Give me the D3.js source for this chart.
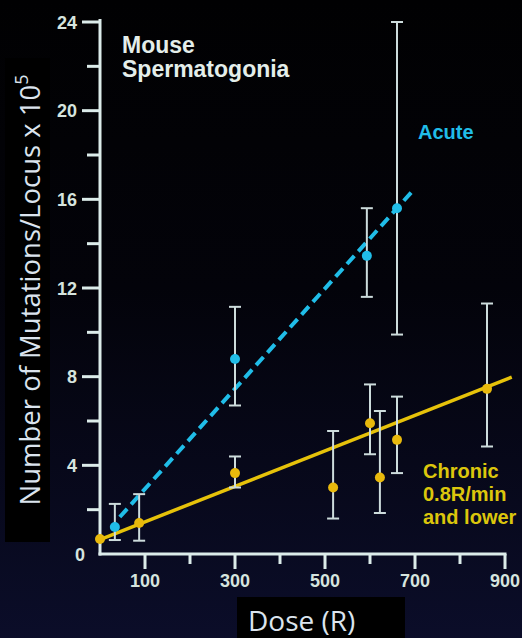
<!DOCTYPE html>
<html>
<head>
<meta charset="utf-8">
<script src="https://cdn.jsdelivr.net/npm/d3@7"></script>
<style>
  html, body { margin: 0; padding: 0; background: #000; }
  svg { display: block; }
</style>
</head>
<body>
<script>
'use strict';

// dose (R) and mutations per locus x 10^5
const acuteDose  = [33, 300, 593, 660]
const acuteValue = [1.22, 8.8, 13.45, 15.6]
const acuteHigh  = [2.26, 11.15, 15.6, 24.0]
const acuteLow   = [0.63, 6.7, 11.6, 9.9]

const chronicDose  = [0, 87, 300, 518, 600, 622, 660, 860]
const chronicValue = [0.68, 1.4, 3.65, 3.0, 5.9, 3.45, 5.15, 7.45]
const chronicHigh  = [null, 2.7, 4.4, 5.55, 7.65, 6.45, 7.1, 11.3]
const chronicLow   = [null, 0.6, 3.0, 1.6, 4.5, 1.85, 3.65, 4.85]

// fitted lines, end points
const acuteFitDose    = [44, 700]
const acuteFitValue   = [1.67, 16.5]
const chronicFitDose  = [0, 915]
const chronicFitValue = [0.65, 7.98]

const xTicks = [100, 200, 300, 400, 500, 600, 700, 800, 900]
const xTickLabels = [100, 300, 500, 700, 900]
const yTicks = [2, 4, 6, 8, 10, 12, 14, 16, 18, 20, 22, 24]
const yTickLabels = [0, 4, 8, 12, 16, 20, 24]

const largura = 522
const altura = 638

const corEixo = '#dcecea'
const corCiano = '#20bde8'
const corAmarelo = '#e6c20a'
const corBarra = '#cddcdc'

const svg = d3.select('body').append('svg')
    .attr('width', largura)
    .attr('height', altura)

// fundo: quase preto em cima, azul escuro em baixo
const grad = svg.append('defs').append('linearGradient')
    .attr('id', 'fundo')
    .attr('x1', 0).attr('y1', 0).attr('x2', 0).attr('y2', 1)
grad.append('stop').attr('offset', '0%').attr('stop-color', '#010102')
grad.append('stop').attr('offset', '45%').attr('stop-color', '#03030a')
grad.append('stop').attr('offset', '100%').attr('stop-color', '#0b0d29')
svg.append('rect').attr('width', largura).attr('height', altura).attr('fill', 'url(#fundo)')

const x = d3.scaleLinear().domain([0, 900]).range([100, 505])
const y = d3.scaleLinear().domain([0, 24]).range([554, 22])

const fonte = 'Liberation Sans, Arial, Helvetica, sans-serif'

// eixo x
const eixoX = svg.append('g')
eixoX.append('line')
    .attr('x1', x(0) - 1.5).attr('x2', x(900) + 1.5)
    .attr('y1', y(0)).attr('y2', y(0))
    .attr('stroke', corEixo).attr('stroke-width', 3)
eixoX.selectAll('line.tick').data(xTicks).enter().append('line')
    .attr('class', 'tick')
    .attr('x1', d => x(d)).attr('x2', d => x(d))
    .attr('y1', y(0))
    .attr('y2', d => y(0) + (xTickLabels.includes(d) ? 15 : 10))
    .attr('stroke', corEixo).attr('stroke-width', 3)
eixoX.selectAll('text').data(xTickLabels).enter().append('text')
    .attr('x', d => x(d)).attr('y', 587)
    .attr('text-anchor', 'middle')
    .attr('font-family', fonte)
    .attr('font-weight', 'bold').attr('font-size', 18)
    .attr('fill', '#d6e4de')
    .text(d => d)

// eixo y
const eixoY = svg.append('g')
eixoY.append('line')
    .attr('x1', x(0)).attr('x2', x(0))
    .attr('y1', y(24) - 3).attr('y2', y(0) + 1.5)
    .attr('stroke', corEixo).attr('stroke-width', 3)
eixoY.selectAll('line.tick').data(yTicks).enter().append('line')
    .attr('class', 'tick')
    .attr('x1', d => x(0) - (yTickLabels.includes(d) ? 18 : 13)).attr('x2', x(0))
    .attr('y1', d => y(d)).attr('y2', d => y(d))
    .attr('stroke', corEixo).attr('stroke-width', 3)
eixoY.selectAll('text').data(yTickLabels).enter().append('text')
    .attr('x', d => d === 0 ? 85 : 77).attr('y', d => y(d) + 6.5)
    .attr('text-anchor', 'end')
    .attr('font-family', fonte)
    .attr('font-weight', 'bold').attr('font-size', 18)
    .attr('fill', '#d6e4de')
    .text(d => d)

// retas ajustadas
const linha = d3.line().x(d => x(d[0])).y(d => y(d[1]))
svg.append('path')
    .datum(d3.zip(chronicFitDose, chronicFitValue))
    .attr('d', linha)
    .attr('fill', 'none').attr('stroke', corAmarelo).attr('stroke-width', 3.5)
svg.append('path')
    .datum(d3.zip(acuteFitDose, acuteFitValue))
    .attr('d', linha)
    .attr('fill', 'none').attr('stroke', corCiano).attr('stroke-width', 4)
    .attr('stroke-dasharray', '11,6')

// barras de erro
function barras(doses, altos, baixos) {
    const dados = d3.range(doses.length)
        .filter(i => altos[i] !== null)
        .map(i => ({d: doses[i], hi: altos[i], lo: baixos[i]}))
    const g = svg.append('g').attr('stroke', corBarra).attr('stroke-width', 2)
    g.selectAll('line.v').data(dados).enter().append('line')
        .attr('x1', p => x(p.d)).attr('x2', p => x(p.d))
        .attr('y1', p => y(p.hi)).attr('y2', p => y(p.lo))
    g.selectAll('line.top').data(dados).enter().append('line')
        .attr('x1', p => x(p.d) - 6).attr('x2', p => x(p.d) + 6)
        .attr('y1', p => y(p.hi)).attr('y2', p => y(p.hi))
    g.selectAll('line.bot').data(dados).enter().append('line')
        .attr('x1', p => x(p.d) - 6).attr('x2', p => x(p.d) + 6)
        .attr('y1', p => y(p.lo)).attr('y2', p => y(p.lo))
}
barras(acuteDose, acuteHigh, acuteLow)
barras(chronicDose, chronicHigh, chronicLow)

// pontos
svg.append('g').selectAll('circle').data(d3.zip(chronicDose, chronicValue)).enter().append('circle')
    .attr('cx', d => x(d[0])).attr('cy', d => y(d[1])).attr('r', 5)
    .attr('fill', '#e8b90c')
svg.append('g').selectAll('circle').data(d3.zip(acuteDose, acuteValue)).enter().append('circle')
    .attr('cx', d => x(d[0])).attr('cy', d => y(d[1])).attr('r', 5)
    .attr('fill', corCiano)

// textos
const titulo = svg.append('text')
    .attr('font-family', fonte).attr('font-weight', 'bold').attr('font-size', 23)
    .attr('fill', '#e4eeea')
titulo.append('tspan').attr('x', 122).attr('y', 53).text('Mouse')
titulo.append('tspan').attr('x', 122).attr('y', 77).text('Spermatogonia')

svg.append('text')
    .attr('x', 418).attr('y', 139)
    .attr('font-family', fonte).attr('font-weight', 'bold').attr('font-size', 20)
    .attr('fill', corCiano)
    .text('Acute')

const cronico = svg.append('text')
    .attr('font-family', fonte).attr('font-weight', 'bold').attr('font-size', 20)
    .attr('fill', '#dcc60c')
cronico.append('tspan').attr('x', 423).attr('y', 478).text('Chronic')
cronico.append('tspan').attr('x', 423).attr('y', 501).text('0.8R/min')
cronico.append('tspan').attr('x', 423).attr('y', 524).text('and lower')

// rótulos dos eixos em caixas pretas
svg.append('rect').attr('x', 5).attr('y', 58).attr('width', 45).attr('height', 484).attr('fill', '#000')
const rotuloY = svg.append('text')
    .attr('transform', 'translate(40, 290) rotate(-90)')
    .attr('text-anchor', 'middle')
    .attr('font-family', 'Open Sans, Noto Sans, sans-serif')
    .attr('font-size', 27.5)
    .attr('fill', '#dbe4ee')
rotuloY.append('tspan').text('Number of Mutations/Locus x 10')
rotuloY.append('tspan').attr('font-size', 18).attr('dy', -12).text('5')

svg.append('rect').attr('x', 237).attr('y', 597).attr('width', 168).attr('height', 41).attr('fill', '#000')
svg.append('text')
    .attr('x', 248).attr('y', 631)
    .attr('font-family', 'Open Sans, Noto Sans, sans-serif')
    .attr('font-size', 28)
    .attr('fill', '#dbe4ee')
    .text('Dose (R)')
</script>
</body>
</html>
